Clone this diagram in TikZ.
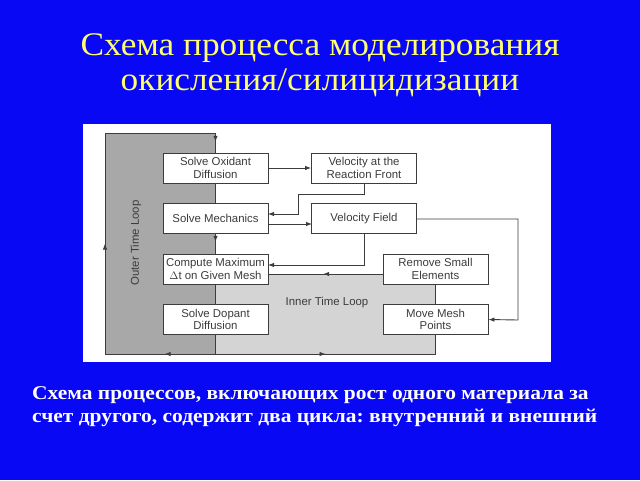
\documentclass[tikz,border=0pt]{standalone}
\usepackage{fontspec}
\setmainfont{Liberation Serif}
\newfontfamily\diagfont{Liberation Sans}
\usetikzlibrary{arrows.meta,decorations.markings}
\frenchspacing
\definecolor{bgblue}{RGB}{8,8,245}
\definecolor{titleyellow}{RGB}{255,255,110}
\definecolor{darkgr}{RGB}{168,168,168}
\definecolor{lightgr}{RGB}{212,212,212}
\definecolor{linegr}{RGB}{60,60,60}
\definecolor{textgr}{RGB}{60,60,60}
\tikzset{
  procbox/.style={draw=linegr, line width=0.9pt, fill=white, minimum width=105pt, minimum height=30pt, inner sep=0pt, align=center, font=\diagfont\fontsize{11.4}{12.5}\selectfont, text=textgr},
  conn/.style={draw=linegr, line width=0.9pt},
  arr/.style={conn, -{Latex[length=6pt,width=4.5pt]}},
  midarr/.style={conn, postaction={decorate}, decoration={markings, mark=at position #1 with {\arrow[linegr]{Latex[length=6pt,width=4.5pt]}}}},
  titletext/.style={text=titleyellow, font=\fontsize{33}{36}\selectfont, anchor=base, xscale=1.07},
  captext/.style={text=white, font=\bfseries\fontsize{19.5}{22}\selectfont, anchor=base west, inner sep=0pt, xscale=1.1},
  looplabel/.style={text=textgr, font=\diagfont\fontsize{11.4}{12.5}\selectfont}
}
\begin{document}
\begin{tikzpicture}[x=1pt,y=-1pt]
\useasboundingbox (0,0) rectangle (640,480);
\fill[bgblue] (0,0) rectangle (640,480);
% title
\node[titletext] (t1) at (320,55) {Схема процесса моделирования};
\node[titletext] (t2) at (320,90) {окисления/силицидизации};
% panel
\fill[white] (83,124) rectangle (551,362);
\fill[darkgr] (105,133) rectangle (216,354);
\fill[lightgr] (216,274) rectangle (436,354);
% boxes
\node[procbox] (oxid) at (215.5,168) {Solve Oxidant\\Diffusion};
\node[procbox] (vrf) at (364,168) {Velocity at the\\Reaction Front};
\node[procbox] (mech) at (215.5,218.5) {Solve Mechanics};
\node[procbox] (vf) at (364,218.5) {Velocity Field};
\node[procbox] (cmax) at (215.5,269) {Compute Maximum\\$\Delta$t on Given Mesh};
\node[procbox] (rse) at (435.5,269) {Remove Small\\Elements};
\node[procbox] (dop) at (215.5,319.5) {Solve Dopant\\Diffusion};
\node[procbox] (mmp) at (435.5,319.5) {Move Mesh\\Points};
% labels
\node[looplabel, rotate=90] (outl) at (136,243) {Outer Time Loop};
\node[looplabel] (innl) at (327,303) {Inner Time Loop};
% coordinates
\coordinate (jb) at (215.5,354);
\coordinate (bl) at (105,354);
\coordinate (tl) at (105,133);
\coordinate (tr) at (215.5,133);
\coordinate (br) at (435.5,354);
\coordinate (rsew) at (383,274);
\coordinate (cmaxe) at (268,274);
\coordinate (vfd) at (364,265);
\coordinate (cmaxe2) at (268,265);
\coordinate (vrfd) at (364,194);
\coordinate (vrfl) at (298,194);
\coordinate (vrfl2) at (298,214);
\coordinate (meche) at (268,214);
\coordinate (meche2) at (268,224);
\coordinate (vfw) at (312,224);
\coordinate (vfe) at (416,219);
\coordinate (vfr) at (518,219);
\coordinate (vfr2) at (518,320);
% connectors
\draw[conn] (dop.south) -- (jb);
\draw[midarr=0.46] (jb) -- (bl);
\draw[midarr=0.5] (bl) -- (tl);
\draw[conn] (tl) -- (tr);
\draw[midarr=0.45] (tr) -- (oxid.north);
\draw[midarr=0.5] (jb) -- (br);
\draw[conn] (br) -- (mmp.south);
\draw[conn] (mmp.north) -- (rse.south);
\draw[midarr=0.52] (rsew) -- (cmaxe);
\draw[arr] (vf.south) -- (vfd) -- (cmaxe2);
\draw[arr] (oxid.east) -- (vrf.west);
\draw[arr] (vrf.south) -- (vrfd) -- (vrfl) -- (vrfl2) -- (meche);
\draw[arr] (meche2) -- (vfw);
\draw[arr] (vfe) -- (vfr) -- (vfr2) -- (mmp.east);
\draw[midarr=0.4] (mech.south) -- (cmax.north);
\draw[conn] (oxid.south) -- (mech.north);
\draw[conn] (cmax.south) -- (dop.north);
% caption
\node[captext] (c1) at (32,399) {Схема процессов, включающих рост одного материала за};
\node[captext] (c2) at (32,422) {счет другого, содержит два цикла: внутренний и внешний};
\end{tikzpicture}
\end{document}
